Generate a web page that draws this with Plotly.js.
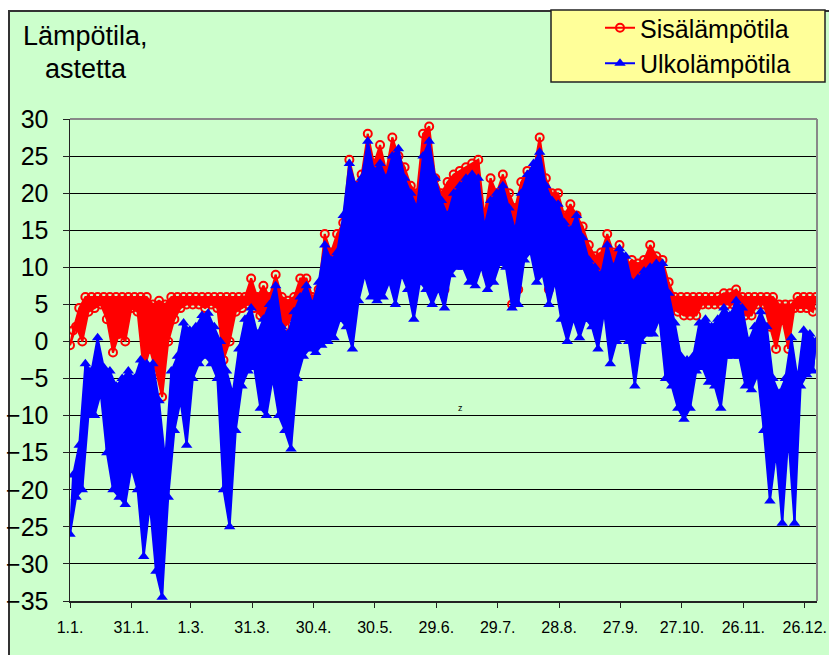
<!DOCTYPE html>
<html>
<head>
<meta charset="utf-8">
<script src="https://cdn.plot.ly/plotly-3.0.1.min.js"></script>
<style>
html,body{margin:0;padding:0;background:#fff;overflow:hidden;width:829px;height:655px;}
#frame{position:absolute;left:8px;top:10px;width:830px;height:660px;border:2px solid #333;background:#CCFFCC;}
#chart{position:absolute;left:0;top:0;width:829px;height:655px;}
</style>
</head>
<body>
<div id="frame"></div>
<div id="chart"></div>
<script>
// Day of year (start of each 3-day bin; 0 = 1.1.)
const days = [
  0,3,6,9,12,15,18,21,24,27,
  30,33,36,39,42,45,48,51,54,57,
  60,63,66,69,72,75,78,81,84,87,
  90,93,96,99,102,105,108,111,114,117,
  120,123,126,129,132,135,138,141,144,147,
  150,153,156,159,162,165,168,171,174,177,
  180,183,186,189,192,195,198,201,204,207,
  210,213,216,219,222,225,228,231,234,237,
  240,243,246,249,252,255,258,261,264,267,
  270,273,276,279,282,285,288,291,294,297,
  300,303,306,309,312,315,318,321,324,327,
  330,333,336,339,342,345,348,351,354,357,
  360,363
];
// Ulkolämpötila (outdoor) lows / highs per bin
const outLow = [
  -26,-21,-20,-10,-10,-7,-15,-20,-21,-22,
  -17,-20,-29,-22,-31,-34.5,-21,-12,-8,-14,
  -5,-3,-2,-3,-5,-20,-25,-12,-6,-4,
  -3.5,-9,-10,-5,-10,-12,-14.5,-5,-2,-1,
  -1.5,-0.5,0,0.5,3,2,-1,5.5,9,6,
  5.5,6,8,5,9,7,3,8,7,5,
  7,4.5,9,10,10,8,7.5,10,7,8,
  10.5,10,4.5,5,11,12,8,9,5,8,
  3,0,3,0.5,3,2,-1,4,-3,0,
  0.5,0,-6,0,1,1,3,-5,-6,-9,
  -10.5,-9,-4,-3.5,-5.5,-6,-9,-2,-2,-2,
  -6,-6.5,-4.5,-12,-21.5,-15,-24.5,-13,-24.5,-6,
  -4.5,-4
];
const outHigh = [
  -18,-14,-3,-4,0.5,-3.5,-4,-6,-5,-4,
  -5,-2.5,-3,-3,-8,-16,-4,-2,2.5,1.5,
  2,3.5,3.8,2,0,-4,-7,-1,3,4.5,
  1,3,5,7.5,2,1,4,6,7.5,5,
  8,13,11,12,17,24,21,22,27,23,
  24,22,25,26,22,20,18,25,27,22,
  19,17,20,21,22,22.5,22,15.5,19,20,
  21,18,15,20,22.5,24,25.5,21,19,18.5,
  16,15,17,14,11,10,9,13,10,12.5,
  11.5,8,8.5,9.5,10,10.5,10.5,6.5,2.5,-2,
  -2.5,-2,2.5,3,2,3,4.5,3.5,5.5,4.5,
  0,2,4,2,-5,-7,-5,0.5,-5,1.5,
  1,0
];
// Sisälämpötila (indoor) lows / highs per bin
const inLow = [
  -0.5,2,0,4,4.5,5,3,-1.5,1,0,
  4.5,4,-4,-1,-4,-7.5,0,3,4.5,5,
  5,5,4.5,5,4.5,-2.5,0,4,4.5,5,
  4.5,3.5,2,1,3,2,3,4,4.5,4,
  4,5,7,8,9,10,11,12,12,11,
  12,12,12,11,11,10,7,12,12,10,
  8,7,11,12,12,11,11,11,9,10,
  12,11,5,7,12,13,12,10,7,9,
  7,5,6,5,5,4,3,6,3,4,
  4,4,4,5,7,7,6,5,4.5,4,
  3.5,3.5,3.5,5,5,5,5,5,5,4.5,
  3.5,3.5,5,5,2,-1,3,-1,4.5,4.5,
  4.5,4
];
const inHigh = [
  1.5,4.5,6,6,6,6,6,6,6,6,
  6,6,6,5,5.5,5,6,6,6,6,
  6,6,6,6,6,6,6,6,6,8.5,
  6,7.5,6,9,6,5.5,6,8.5,8.5,6,
  7,14.5,12,14.5,16,24.5,21,22.5,28,24,
  26.5,23,27.5,25,23.5,21,20,28,29,22,
  20,21.5,22.5,23,23.5,24,24.5,17,22,20,
  22.5,20,18,21.5,23,23,27.5,22,20,20,
  17,18.5,17,15.5,13,11.5,12,14.5,12,13,
  10,11,10.5,11,13,11.5,11,8,6,6,
  6,6,6,6,6,6,6.5,6.5,7,6,
  6,6,6,6,6,5,5,5,6,6,
  6,6
];
const tickDays = [0,30,59,89,119,149,179,209,239,269,299,329,359];
const tickLabels = ["1.1.","31.1.","1.3.","31.3.","30.4.","30.5.","29.6.","29.7.","28.8.","27.9.","27.10.","26.11.","26.12."];
const seriesNames = ["Sisälämpötila","Ulkolämpötila"];

function zig(lo, hi){
  const x=[], y=[];
  for(let i=0;i<days.length;i++){ x.push(days[i], days[i]+1.5); y.push(lo[i], hi[i]); }
  return {x, y};
}
function band(lo, hi){
  const x=[], y=[];
  for(let i=0;i<days.length;i++){ x.push(days[i]+1.5); y.push(hi[i]); }
  for(let i=days.length-1;i>=0;i--){ x.push(days[i]); y.push(lo[i]); }
  return {x, y};
}
const inB = band(inLow, inHigh), outB = band(outLow, outHigh);
const inZ = zig(inLow, inHigh), outZ = zig(outLow, outHigh);

const data = [
  {x: inB.x, y: inB.y, type:'scatter', mode:'lines', fill:'toself', fillcolor:'#FF0000',
   line:{color:'#FF0000', width:2}, showlegend:false, hoverinfo:'skip'},
  {x: inZ.x, y: inZ.y, type:'scatter', mode:'lines+markers', name: seriesNames[0],
   line:{color:'#FF0000', width:2},
   marker:{symbol:'circle-open', color:'#FF0000', size:8, line:{width:2, color:'#FF0000'}}},
  {x: outB.x, y: outB.y, type:'scatter', mode:'lines', fill:'toself', fillcolor:'#0000FF',
   line:{color:'#0000FF', width:2}, showlegend:false, hoverinfo:'skip'},
  {x: outZ.x, y: outZ.y, type:'scatter', mode:'lines+markers', name: seriesNames[1],
   line:{color:'#0000FF', width:2},
   marker:{symbol:'triangle-up', color:'#0000FF', size:10}}
];

const W=829, H=655, L=70, R=12, T=119, B=54;
const pw = W-L-R, ph = H-T-B;
const px = v => (v-L)/pw;
const py = v => (H-B-v)/ph;
const font = 'Arial, "Liberation Sans", sans-serif';

const layout = {
  width: W, height: H,
  margin: {l:L, r:R, t:T, b:B, pad:0, autoexpand:false},
  paper_bgcolor: 'rgba(0,0,0,0)',
  plot_bgcolor: '#CCFFCC',
  font: {family: font, color:'#000'},
  xaxis: {
    range:[0,365], tickmode:'array', tickvals: tickDays, ticktext: tickLabels,
    showgrid:false, zeroline:false, showline:true, linecolor:'#222', linewidth:1.5,
    ticks:'outside', ticklen:5, tickcolor:'#222', tickwidth:1,
    tickfont:{size:16, family:font, color:'#000'}, ticklabelstandoff:6
  },
  yaxis: {
    range:[-35,30], dtick:5, tick0:0,
    showgrid:true, gridcolor:'#000', gridwidth:1, zeroline:false,
    showline:true, linecolor:'#222', linewidth:1.5,
    ticks:'outside', ticklen:6, tickcolor:'#222', tickwidth:1,
    tickfont:{size:25, family:font, color:'#000'}, ticklabelstandoff:9
  },
  showlegend: true,
  legend: {
    x: px(600), y: py(5), xanchor:'left', yanchor:'top',
    bgcolor:'rgba(0,0,0,0)', borderwidth:0,
    font:{size:25, family:font, color:'#000'}, tracegroupgap:0
  },
  shapes: [
    {type:'line', xref:'paper', yref:'paper', x0:0, x1:1, y0:1, y1:1, line:{color:'#888', width:2}, layer:'above'},
    {type:'line', xref:'paper', yref:'paper', x0:1, x1:1, y0:0, y1:1, line:{color:'#888', width:2}, layer:'above'},
    {type:'rect', xref:'paper', yref:'paper', x0:px(551), x1:px(825), y0:py(82), y1:py(10),
     fillcolor:'#FFFF99', line:{color:'#222', width:1.5}, layer:'above'}
  ],
  annotations: [
    {text:'Lämpötila,', xref:'paper', yref:'paper', x:px(21), y:py(36), xanchor:'left', yanchor:'middle',
     showarrow:false, font:{size:27, family:font, color:'#000'}},
    {text:'astetta', xref:'paper', yref:'paper', x:px(43), y:py(69), xanchor:'left', yanchor:'middle',
     showarrow:false, font:{size:27, family:font, color:'#000'}},
    {text:'z', xref:'paper', yref:'paper', x:px(460), y:py(408), xanchor:'center', yanchor:'middle',
     showarrow:false, font:{size:9, family:font, color:'#000'}}
  ]
};

Plotly.newPlot('chart', data, layout, {displayModeBar:false, staticPlot:true});
</script>
</body>
</html>
